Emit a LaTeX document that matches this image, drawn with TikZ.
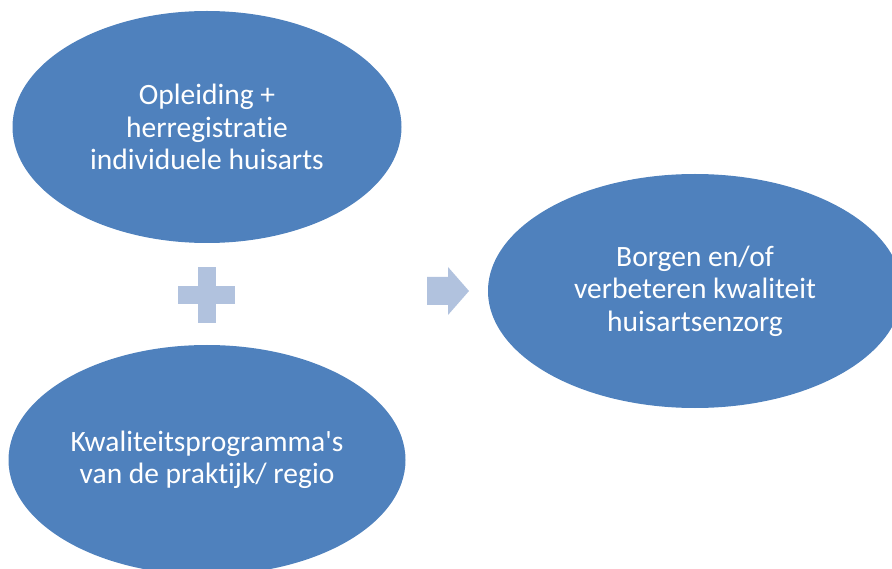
\documentclass[tikz,border=0pt]{standalone}
\usepackage{fontspec}
\setmainfont{Carlito}[Ligatures={TeXOff,NoCommon}]
\usetikzlibrary{calc, shapes.geometric}
\definecolor{ovalblue}{RGB}{79,129,189}
\definecolor{signblue}{RGB}{177,194,222}

\begin{document}
\begin{tikzpicture}[x=1pt,y=-1pt,every node/.style={ellipse, fill=ovalblue, text=white, align=center, inner sep=0pt, font=\fontsize{29.5}{32.5}\selectfont}, every path/.style={draw=none}]
\useasboundingbox (0,0) rectangle (892,569);
\coordinate (A) at (207,127);
\coordinate (B) at (207,460);
\coordinate (C) at (695,291);
\coordinate (P) at (207,295);
\coordinate (R) at (448,291);

\node[minimum width=389pt, minimum height=232pt] (opl) at (A) {Opleiding +\\herregistratie\\individuele huisarts};
\node[minimum width=397pt, minimum height=230pt] (kwal) at (B) {Kwaliteitsprogramma's\\van de praktijk/ regio};
\node[minimum width=414pt, minimum height=234pt] (borg) at (C) {Borgen en/of\\verbeteren kwaliteit\\huisartsenzorg};

\fill[signblue] ($(P)+(-9,-28)$) rectangle ($(P)+(9,28)$); %plus
\fill[signblue] ($(P)+(-29,-9)$) rectangle ($(P)+(28,9)$);
\fill[signblue] ($(R)+(-21,-14)$) -- ($(R)+(0,-14)$) -- ($(R)+(0,-24)$) -- ($(R)+(21,0)$)
  -- ($(R)+(0,24)$) -- ($(R)+(0,14)$) -- ($(R)+(-21,14)$) -- cycle; %arrow
\end{tikzpicture}
\end{document}
